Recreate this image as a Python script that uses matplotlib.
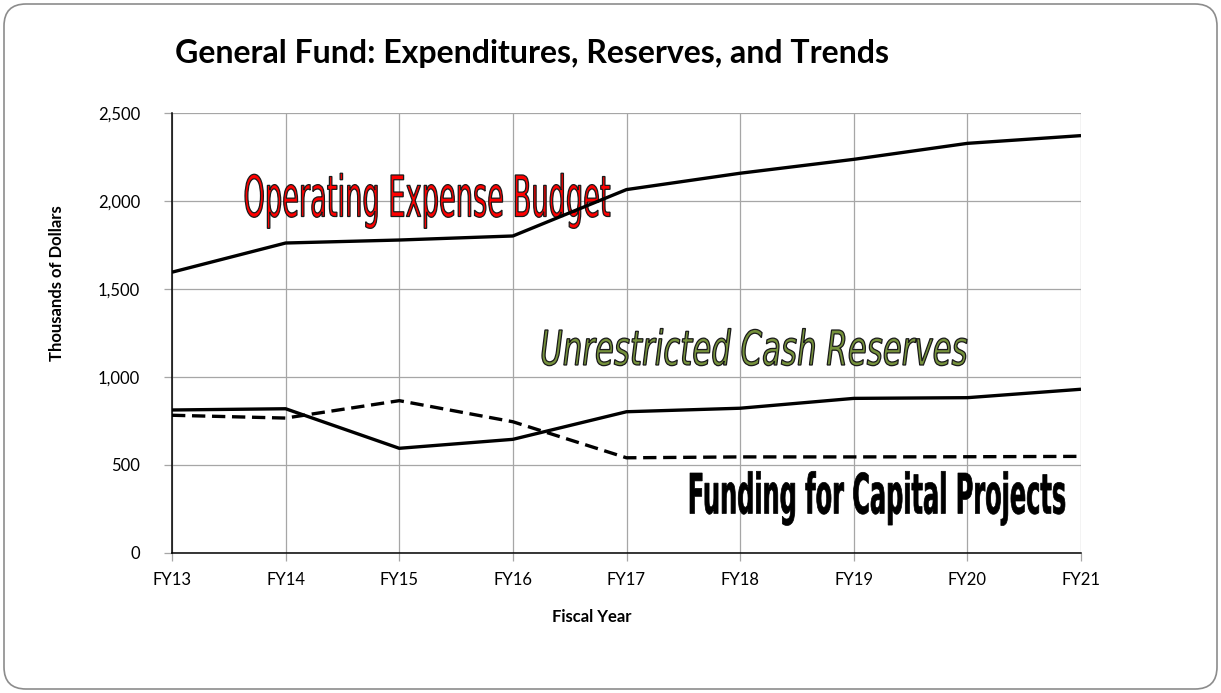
import matplotlib
matplotlib.use("Agg")
import matplotlib.pyplot as plt
from matplotlib.textpath import TextPath
from matplotlib.font_manager import FontProperties
from matplotlib.patches import PathPatch, FancyBboxPatch
from matplotlib.transforms import Affine2D
from matplotlib.ticker import FuncFormatter

years = ["FY13", "FY14", "FY15", "FY16", "FY17", "FY18", "FY19", "FY20", "FY21"]
operating_budget = [1596, 1762, 1779, 1802, 2066, 2159, 2238, 2329, 2373]
cash_reserves = [812, 819, 594, 645, 802, 822, 878, 882, 930]
capital_funding = [782, 766, 865, 745, 540, 545, 545, 546, 548]

W, H, DPI = 1221, 693, 100
plt.rcParams["font.family"] = ["Lato", "DejaVu Sans"]

fig = plt.figure(figsize=(W / DPI, H / DPI), dpi=DPI)
fig.patch.set_facecolor("white")

# rounded chart frame
frame = FancyBboxPatch((4, 4), W - 8, H - 8,
                       boxstyle="round,pad=0,rounding_size=22",
                       transform=Affine2D(), facecolor="white",
                       edgecolor="#8c8c8c", linewidth=1.2, zorder=-5)
fig.add_artist(frame)

ax_l, ax_r, ax_t, ax_b = 172, 1081, 113.3, 552.7
ax = fig.add_axes([ax_l / W, 1 - ax_b / H, (ax_r - ax_l) / W, (ax_b - ax_t) / H])
ax.set_facecolor("none")

x = list(range(len(years)))
ax.plot(x, operating_budget, color="black", lw=2.4, zorder=4, solid_capstyle="butt")
ax.plot(x, cash_reserves, color="black", lw=2.4, zorder=4, solid_capstyle="butt")
ax.plot(x, capital_funding, color="black", lw=2.4, zorder=4, dashes=(4, 2))

ax.set_xlim(0, len(years) - 1)
ax.set_ylim(0, 2500)
ax.set_xticks(x)
ax.set_xticklabels(years)
ax.set_yticks(range(0, 2501, 500))
ax.yaxis.set_major_formatter(FuncFormatter(lambda v, p: f"{int(v):,}"))
ax.grid(True, color="#a6a6a6", lw=0.9)
ax.set_axisbelow(True)
for s in ("top", "right"):
    ax.spines[s].set_visible(False)
for s in ("left", "bottom"):
    ax.spines[s].set_color("black")
    ax.spines[s].set_linewidth(1.1)
    ax.spines[s].set_zorder(3)
ax.tick_params(axis="both", direction="out", length=6, width=0.9,
               color="#a6a6a6", labelsize=12, labelcolor="black")
ax.tick_params(axis="y", pad=17)
ax.tick_params(axis="x", pad=8)

ax.set_ylabel("Thousands of Dollars", fontsize=12, fontweight="bold")
ax.set_xlabel("Fiscal Year", fontsize=12, fontweight="bold")
aw, ah = ax_r - ax_l, ax_b - ax_t
ax.xaxis.set_label_coords((592 - ax_l) / aw, (ax_b - 617) / ah)
ax.xaxis.label.set_va("center")
ax.yaxis.set_label_coords((57 - ax_l) / aw, (ax_b - 283) / ah)
ax.yaxis.label.set_va("center")
fig.text(175 / W, 1 - 53 / H, "General Fund: Expenditures, Reserves, and Trends",
         fontsize=23, fontweight="bold", ha="left", va="center")


def art_text(text, x0, x1, cap_top, baseline, face, edge, weight="normal",
             style="normal", ew=1.0):
    """Draw stretched outlined word-art text into a pixel box."""
    fp = FontProperties(family="DejaVu Sans", weight=weight, style=style)
    tp = TextPath((0, 0), text, size=100, prop=fp)
    cap = TextPath((0, 0), "H", size=100, prop=fp).get_extents()
    ext = tp.get_extents()
    sx = (x1 - x0) / ext.width
    sy = (baseline - cap_top) / cap.ymax
    tr = Affine2D().translate(-ext.xmin, 0).scale(sx, sy).translate(x0, H - baseline)
    patch = PathPatch(tp, transform=tr, facecolor=face, edgecolor=edge,
                      linewidth=ew, zorder=3, clip_on=False)
    ax.add_artist(patch)


art_text("Operating Expense Budget", 245, 610, 175, 216.5, "#ff0000", "#1a1a1a", ew=0.9)
art_text("Unrestricted Cash Reserves", 542, 967, 330, 365, "#76923c", "#1a1a1a",
         style="italic", ew=0.9)
art_text("Funding for Capital Projects", 690, 1065, 473, 513.5, "black", "black",
         weight="bold", ew=0.5)

fig.savefig("out.png", dpi=DPI)
